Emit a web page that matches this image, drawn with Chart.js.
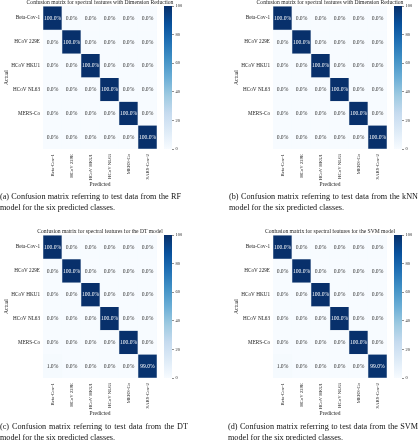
<!DOCTYPE html>
<html>
<head>
<meta charset="utf-8">
<script src="https://cdn.jsdelivr.net/npm/chart.js@4.4.1/dist/chart.umd.min.js"></script>
<style>
  html, body { margin: 0; padding: 0; background: #fff; }
  #fig { position: relative; width: 419px; height: 440px; overflow: hidden; }
  #fig canvas { position: absolute; }
  .cap {
    position: absolute;
    font-family: "Liberation Serif", serif;
    font-size: 8.2px;
    line-height: 10.5px;
    color: #111;
    text-align: justify;
    text-align-last: left;
    will-change: transform;
  }
</style>
</head>
<body>
<div id="fig"></div>
<script>
// confusion matrices (percent), rows = actual, cols = predicted
const classes = ['Beta-Cov-1', 'HCoV 229E', 'HCoV HKU1', 'HCoV NL63', 'MERS-Co', 'SARS-Cov-2'];
const rowTicks = ['Beta-Cov-1', 'HCoV 229E', 'HCoV HKU1', 'HCoV NL63', 'MERS-Co', ''];
const cbTicks = [0, 20, 40, 60, 80, 100];

const rfValues = [
  [100, 0, 0, 0, 0, 0],
  [0, 100, 0, 0, 0, 0],
  [0, 0, 100, 0, 0, 0],
  [0, 0, 0, 100, 0, 0],
  [0, 0, 0, 0, 100, 0],
  [0, 0, 0, 0, 0, 100]
];
const knnValues = [
  [100, 0, 0, 0, 0, 0],
  [0, 100, 0, 0, 0, 0],
  [0, 0, 100, 0, 0, 0],
  [0, 0, 0, 100, 0, 0],
  [0, 0, 0, 0, 100, 0],
  [0, 0, 0, 0, 0, 100]
];
const dtValues = [
  [100, 0, 0, 0, 0, 0],
  [0, 100, 0, 0, 0, 0],
  [0, 0, 100, 0, 0, 0],
  [0, 0, 0, 100, 0, 0],
  [0, 0, 0, 0, 100, 0],
  [1, 0, 0, 0, 0, 99]
];
const svmValues = [
  [100, 0, 0, 0, 0, 0],
  [0, 100, 0, 0, 0, 0],
  [0, 0, 100, 0, 0, 0],
  [0, 0, 0, 100, 0, 0],
  [0, 0, 0, 0, 100, 0],
  [1, 0, 0, 0, 0, 99]
];

const titles = [
  'Confusion matrix for spectral features with Dimension Reduction',
  'Confusion matrix for spectral features with Dimension Reduction',
  'Confusion matrix for spectral features for the DT model',
  'Confusion matrix for spectral features for the SVM model'
];
const captions = [
  '(a) Confusion matrix referring to test data from the RF model for the six predicted classes.',
  '(b) Confusion matrix referring to test data from the kNN model for the six predicted classes.',
  '(c) Confusion matrix referring to test data from the DT model for the six predicted classes.',
  '(d) Confusion matrix referring to test data from the SVM model for the six predicted classes.'
];

// matplotlib "Blues"
const BLUES = ['#f7fbff', '#deebf7', '#c6dbef', '#9ecae1', '#6baed6', '#4292c6', '#2171b5', '#08519c', '#08306b'];
function blues(t) {
  t = Math.max(0, Math.min(1, t));
  const pos = t * (BLUES.length - 1);
  const i = Math.min(Math.floor(pos), BLUES.length - 2);
  const f = pos - i;
  const a = BLUES[i], b = BLUES[i + 1];
  const ch = (h, k) => parseInt(h.substr(1 + 2 * k, 2), 16);
  const c = [0, 1, 2].map(k => Math.round(ch(a, k) + (ch(b, k) - ch(a, k)) * f));
  return `rgb(${c[0]},${c[1]},${c[2]})`;
}

Chart.defaults.font.family = '"Liberation Serif", serif';
Chart.defaults.color = '#222';

const PW = 190, PH = 190;      // matrix canvas
const TOP = 6, BOTTOM = 149;   // chart area inside a panel
const AREA_RIGHT = 157;
const CW = 28;                 // colorbar canvas

const layoutPanels = [
  { left: 0, top: 0, cbLeft: 160, capLeft: 0, capWidth: 181, capTop: 191.5 },
  { left: 230, top: 0, cbLeft: 390, capLeft: 229, capWidth: 189, capTop: 191.5 },
  { left: 0, top: 229, cbLeft: 160, capLeft: 0, capWidth: 188, capTop: 421.5 },
  { left: 230, top: 229, cbLeft: 390, capLeft: 228, capWidth: 190, capTop: 421.5 }
];
const matrices = [rfValues, knnValues, dtValues, svmValues];

const fig = document.getElementById('fig');
function makeCanvas(left, top, w, h) {
  const c = document.createElement('canvas');
  c.width = w; c.height = h;
  c.style.left = left + 'px'; c.style.top = top + 'px';
  c.style.width = w + 'px'; c.style.height = h + 'px';
  fig.appendChild(c);
  return c;
}

const cellText = {
  id: 'cellText',
  afterDatasetsDraw(chart) {
    const ctx = chart.ctx;
    ctx.save();
    ctx.font = '5.6px "Liberation Serif", serif';
    ctx.textAlign = 'center';
    ctx.textBaseline = 'middle';
    chart.data.datasets.forEach((ds, r) => {
      chart.getDatasetMeta(r).data.forEach((el, c) => {
        const v = ds.cells[c];
        ctx.fillStyle = v > 50 ? '#ffffff' : '#333333';
        ctx.fillText(v.toFixed(1) + '%', el.x, (el.y + el.base) / 2 + 0.3);
      });
    });
    ctx.restore();
  }
};

const panelTitle = {
  id: 'panelTitle',
  afterDraw(chart, args, opts) {
    const a = chart.chartArea, ctx = chart.ctx;
    ctx.save();
    ctx.font = '5.6px "Liberation Serif", serif';
    ctx.fillStyle = '#222';
    ctx.textAlign = 'center';
    ctx.textBaseline = 'middle';
    ctx.fillText(opts.text, (a.left + a.right) / 2, a.top - 3.2);
    ctx.restore();
  }
};

function drawMatrix(values, title, lay) {
  const canvas = makeCanvas(lay.left, lay.top, PW, PH);
  new Chart(canvas, {
    type: 'bar',
    data: {
      labels: classes,
      datasets: values.map((row, r) => ({
        data: row.map(() => [r - 0.5, r + 0.5]),
        cells: row,
        backgroundColor: row.map(v => blues(v / 100)),
        borderColor: row.map(v => v > 50 ? '#dfe6ee' : blues(v / 100)),
        borderWidth: 0.6,
        borderSkipped: false,
        grouped: false,
        barPercentage: 1,
        categoryPercentage: 1
      }))
    },
    options: {
      responsive: false,
      animation: false,
      layout: { padding: { top: TOP, right: PW - AREA_RIGHT, left: 0, bottom: 0 } },
      plugins: {
        legend: { display: false },
        tooltip: { enabled: false },
        panelTitle: { text: title }
      },
      scales: {
        x: {
          type: 'category',
          offset: true,
          grid: { display: false, drawTicks: false },
          border: { display: false },
          ticks: { autoSkip: false, maxRotation: 90, minRotation: 90, padding: 5, font: { size: 4.8 } },
          title: { display: true, text: 'Predicted', font: { size: 5.5 }, padding: { top: 0, bottom: 2 } },
          afterFit: s => { s.height = PH - BOTTOM; }
        },
        y: {
          type: 'linear',
          reverse: true,
          min: -0.5,
          max: 5.5,
          grid: { display: false, drawTicks: false },
          border: { display: false },
          afterBuildTicks: s => { s.ticks = rowTicks.map((_, i) => ({ value: i })); },
          ticks: { autoSkip: false, padding: 3, font: { size: 5.2 }, callback: v => rowTicks[Math.round(v)] },
          title: { display: true, text: 'Actual', font: { size: 5.5 }, padding: { top: 3, bottom: 0 } },
          afterFit: s => { s.width = 43; }
        }
      }
    },
    plugins: [cellText, panelTitle]
  });
}

function drawColorbar(lay) {
  const canvas = makeCanvas(lay.cbLeft, lay.top, CW, PH);
  new Chart(canvas, {
    type: 'bar',
    data: {
      labels: [''],
      datasets: [{
        data: [[cbTicks[0], cbTicks[cbTicks.length - 1]]],
        backgroundColor: c => {
          const a = c.chart.chartArea;
          if (!a) return BLUES[0];
          const g = c.chart.ctx.createLinearGradient(0, a.bottom, 0, a.top);
          BLUES.forEach((col, i) => g.addColorStop(i / (BLUES.length - 1), col));
          return g;
        },
        borderWidth: 0,
        barPercentage: 1,
        categoryPercentage: 1
      }]
    },
    options: {
      responsive: false,
      animation: false,
      layout: { padding: { top: TOP, left: 4, right: 0, bottom: PH - BOTTOM } },
      plugins: { legend: { display: false }, tooltip: { enabled: false } },
      scales: {
        x: { display: false },
        y: {
          position: 'right',
          min: 0,
          max: 100,
          afterBuildTicks: s => { s.ticks = cbTicks.map(v => ({ value: v })); },
          grid: { drawOnChartArea: false, tickLength: 2, color: '#444', lineWidth: 0.6 },
          border: { display: false },
          ticks: { padding: 1.5, font: { size: 4.4 } },
          afterFit: s => { s.width = CW - 4 - 8; }
        }
      }
    }
  });
}

layoutPanels.forEach((lay, i) => {
  drawMatrix(matrices[i], titles[i], lay);
  drawColorbar(lay);
  const cap = document.createElement('div');
  cap.className = 'cap';
  cap.style.left = lay.capLeft + 'px';
  cap.style.top = lay.capTop + 'px';
  cap.style.width = lay.capWidth + 'px';
  cap.textContent = captions[i];
  fig.appendChild(cap);
});
</script>
</body>
</html>
